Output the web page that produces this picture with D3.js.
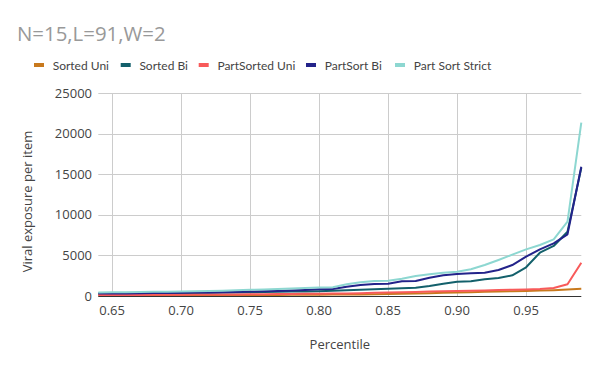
<!DOCTYPE html>
<html>
<head>
<meta charset="utf-8">
<script src="https://cdn.jsdelivr.net/npm/d3@7"></script>
<style>
  body { margin: 0; background: #fff; }
  text { font-family: "Open Sans", sans-serif; }
</style>
</head>
<body>
<div id="chart"></div>
<script>
// percentiles 0.64 .. 0.99
let percentiles = [0.64, 0.65, 0.66, 0.67, 0.68, 0.69, 0.70, 0.71, 0.72, 0.73, 0.74, 0.75,
    0.76, 0.77, 0.78, 0.79, 0.80, 0.81, 0.82, 0.83, 0.84, 0.85, 0.86, 0.87,
    0.88, 0.89, 0.90, 0.91, 0.92, 0.93, 0.94, 0.95, 0.96, 0.97, 0.98, 0.99];

let seriesNames = ['Sorted Uni', 'Sorted Bi', 'PartSorted Uni', 'PartSort Bi', 'Part Sort Strict'];

let sortedUni = [60, 65, 70, 75, 80, 85, 90, 95, 100, 105, 110, 115,
    120, 130, 140, 150, 160, 170, 185, 200, 220, 250, 280, 310,
    350, 390, 430, 470, 510, 550, 590, 630, 670, 720, 800, 900];
let sortedBi = [280, 290, 300, 310, 320, 340, 360, 380, 400, 420, 440, 460,
    480, 510, 540, 570, 600, 640, 700, 780, 840, 900, 950, 1020,
    1230, 1520, 1770, 1810, 2060, 2220, 2550, 3540, 5340, 6170, 7930, 15800];
let partSortedUni = [110, 115, 120, 130, 140, 150, 160, 170, 180, 190, 200, 210,
    220, 235, 250, 265, 280, 300, 320, 350, 390, 420, 460, 500,
    540, 580, 620, 650, 690, 730, 770, 810, 860, 980, 1450, 4100];
let partSortBi = [300, 310, 320, 340, 360, 380, 400, 420, 440, 470, 500, 540,
    580, 620, 680, 740, 820, 870, 1150, 1360, 1480, 1520, 1810, 1850,
    2260, 2550, 2710, 2800, 2880, 3210, 3820, 4850, 5760, 6500, 7610, 15950];
let partSortStrict = [430, 450, 470, 490, 510, 530, 560, 590, 620, 650, 700, 760,
    800, 850, 920, 980, 1040, 1080, 1450, 1700, 1850, 1890, 2140, 2460,
    2670, 2880, 3000, 3290, 3820, 4440, 5100, 5750, 6290, 6990, 9170, 21380];

let xTicks = [0.65, 0.70, 0.75, 0.80, 0.85, 0.90, 0.95];
let yTicks = [0, 5000, 10000, 15000, 20000, 25000];

let colors = ['#c8791d', '#13606b', '#f85a5a', '#23238a', '#8dd7d1'];
let allSeries = [sortedUni, sortedBi, partSortedUni, partSortBi, partSortStrict];

let dim = { width: 600, height: 371 };
let plot = { left: 98.3, right: 581.3, top: 93.3, bottom: 296 };
// legend swatch positions, as laid out in the reference
let legendX = [34, 120.7, 198.7, 306, 395];

let svg = d3.select('#chart').append('svg')
    .attr('width', dim.width)
    .attr('height', dim.height);

let x = d3.scaleLinear().domain([0.64, 0.99]).range([plot.left, plot.right]);
let y = d3.scaleLinear().domain([0, 25000]).range([plot.bottom, plot.top]);

// title
svg.append('text')
    .attr('x', 17).attr('y', 41)
    .attr('font-size', 20.4)
    .attr('fill', '#999')
    .text('N=15,L=91,W=2');

// legend
let legend = svg.append('g').selectAll('g')
    .data(seriesNames)
    .join('g')
    .attr('transform', (d, i) => `translate(${legendX[i]},0)`);

legend.append('rect')
    .attr('y', 63)
    .attr('width', 10).attr('height', 4)
    .attr('fill', (d, i) => colors[i]);

legend.append('text')
    .attr('x', 18.7).attr('y', 69.5)
    .attr('font-size', 12)
    .style('font-family', 'Lato, sans-serif')
    .attr('fill', '#444')
    .text(d => d);

// gridlines
svg.append('g').selectAll('line.h')
    .data(yTicks.filter(d => d > 0))
    .join('line')
    .attr('x1', plot.left).attr('x2', plot.right)
    .attr('y1', d => Math.round(y(d)) + 0.5).attr('y2', d => Math.round(y(d)) + 0.5)
    .attr('stroke', '#ccc');

svg.append('g').selectAll('line.v')
    .data(xTicks)
    .join('line')
    .attr('x1', d => Math.round(x(d)) + 0.5).attr('x2', d => Math.round(x(d)) + 0.5)
    .attr('y1', plot.top).attr('y2', plot.bottom)
    .attr('stroke', '#ccc');

// y tick labels
svg.append('g').selectAll('text')
    .data(yTicks)
    .join('text')
    .attr('x', 92).attr('y', d => y(d) + 4.5)
    .attr('text-anchor', 'end')
    .attr('font-size', 13)
    .attr('fill', '#444')
    .text(d => d);

// x tick labels
svg.append('g').selectAll('text')
    .data(xTicks)
    .join('text')
    .attr('x', d => x(d)).attr('y', 315)
    .attr('text-anchor', 'middle')
    .attr('font-size', 13)
    .attr('fill', '#444')
    .text(d => d3.format('.2f')(d));

// axis titles
svg.append('text')
    .attr('x', (plot.left + plot.right) / 2).attr('y', 349)
    .attr('text-anchor', 'middle')
    .attr('font-size', 13)
    .attr('fill', '#444')
    .text('Percentile');

svg.append('text')
    .attr('transform', 'translate(32,201.5) rotate(-90)')
    .attr('text-anchor', 'middle')
    .attr('font-size', 13)
    .attr('fill', '#444')
    .text('Viral exposure per item');

// lines
let line = d3.line()
    .x((d, i) => x(percentiles[i]))
    .y(d => y(d));

svg.append('g').selectAll('path')
    .data(allSeries)
    .join('path')
    .attr('d', d => line(d))
    .attr('fill', 'none')
    .attr('stroke', (d, i) => colors[i])
    .attr('stroke-width', 2)
    .attr('stroke-linejoin', 'round');

// baseline
svg.append('line')
    .attr('x1', plot.left).attr('x2', plot.right)
    .attr('y1', plot.bottom + 0.5).attr('y2', plot.bottom + 0.5)
    .attr('stroke', '#333');
</script>
</body>
</html>
